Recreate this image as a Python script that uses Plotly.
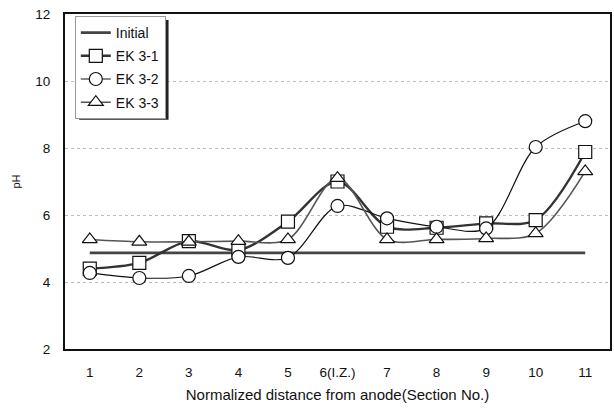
import plotly.graph_objects as go

# Section positions along the cell and their axis labels
sections = [1, 2, 3, 4, 5, 6, 7, 8, 9, 10, 11]
section_labels = ["1", "2", "3", "4", "5", "6(I.Z.)", "7", "8", "9", "10", "11"]

# pH per section
ph_initial = [4.87] * 11
ph_ek31 = [4.40, 4.57, 5.22, 4.95, 5.80, 7.00, 5.65, 5.62, 5.75, 5.85, 7.88]
ph_ek32 = [4.27, 4.12, 4.18, 4.75, 4.72, 6.27, 5.90, 5.65, 5.60, 8.03, 8.80]
ph_ek33 = [5.27, 5.20, 5.20, 5.22, 5.27, 7.10, 5.27, 5.27, 5.30, 5.45, 7.30]

font_family = "Liberation Sans, Arial, sans-serif"

fig = go.Figure()

fig.add_trace(go.Scatter(
    x=sections, y=ph_initial, name="Initial", mode="lines",
    line=dict(color="#444", width=2.8),
    legendgroup="a",
))

marker_common = dict(size=13, color="white", line=dict(color="#111", width=1.2))

fig.add_trace(go.Scatter(
    x=sections, y=ph_ek31, name="EK 3-1", mode="lines+markers",
    line=dict(color="#333", width=2.4, shape="spline", smoothing=0.9),
    marker=dict(symbol="square", **marker_common),
    legendgroup="b",
))
fig.add_trace(go.Scatter(
    x=sections, y=ph_ek32, name="EK 3-2", mode="lines+markers",
    line=dict(color="#111", width=1.2, shape="spline", smoothing=0.9),
    marker=dict(symbol="circle", **marker_common),
    legendgroup="c",
))
fig.add_trace(go.Scatter(
    x=sections, y=ph_ek33, name="EK 3-3", mode="lines+markers",
    line=dict(color="#555", width=1.6, shape="spline", smoothing=0.9),
    marker=dict(symbol="triangle-up", **marker_common),
    legendgroup="d",
))

# drop shadow behind the legend box
fig.add_shape(
    type="rect", xref="paper", yref="paper",
    x0=0.026, x1=0.190, y0=0.684, y1=0.982,
    fillcolor="#222", line=dict(width=0), layer="above",
)

fig.update_layout(
    width=614, height=408,
    margin=dict(l=65, r=2, t=14, b=59),
    paper_bgcolor="white", plot_bgcolor="white",
    font=dict(family=font_family, size=13, color="#111"),
    showlegend=True,
    legend=dict(
        x=0.018, y=0.994, xanchor="left", yanchor="top",
        bgcolor="white", bordercolor="#999", borderwidth=1,
        font=dict(size=14, color="#111"),
        tracegroupgap=2, itemwidth=30,
    ),
    xaxis=dict(
        range=[0.5, 11.5], tickmode="array", tickvals=sections,
        ticktext=section_labels, showgrid=False, zeroline=False,
        showline=True, linecolor="#111", linewidth=2, mirror=True,
        ticks="", ticklabelstandoff=10,
        title=dict(text="Normalized distance from anode(Section No.)",
                   font=dict(size=15), standoff=10),
        tickfont=dict(size=13.5),
    ),
    yaxis=dict(
        range=[2, 12], dtick=2, showgrid=True, gridcolor="#bbb",
        griddash="dot", gridwidth=1, zeroline=False,
        showline=True, linecolor="#111", linewidth=2, mirror=True,
        ticks="", ticklabelstandoff=10,
        title=dict(text="pH", font=dict(size=11), standoff=12),
        tickfont=dict(size=13.5),
    ),
)

fig.write_html("out.html")
